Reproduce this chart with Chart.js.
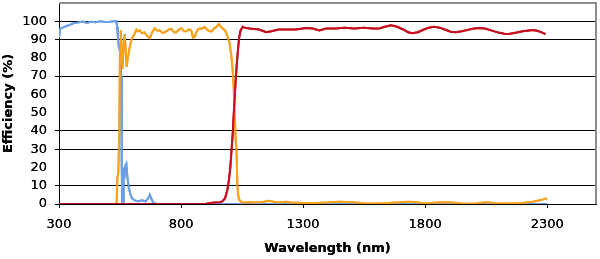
<!DOCTYPE html>
<html>
<head>
<meta charset="utf-8">
<script src="https://cdn.jsdelivr.net/npm/chart.js@4/dist/chart.umd.min.js"></script>
<style>
  html, body { margin: 0; padding: 0; background: #fff; }
  #wrap { position: relative; width: 600px; height: 259px; }
  canvas { display: block; }
  #snap { position: absolute; left: 0; top: 0; width: 600px; height: 259px; pointer-events: none; }
</style>
</head>
<body>
<div id="wrap">
<canvas id="c" width="600" height="259"></canvas>
</div>
<script>
// ---- Data ----
const xTicks = [300, 800, 1300, 1800, 2300];
const yTicks = [0, 10, 20, 30, 40, 50, 60, 70, 80, 90, 100];
const yHiddenGrid = [20, 50, 60, 80];

const blueNm  = [300, 305, 315, 331, 345, 358, 372, 386, 400, 413, 430, 450, 470, 490, 510, 525, 535, 538, 541, 545, 549, 552, 555, 557, 559, 563, 565, 568, 572, 576, 580, 586, 593, 600, 610, 625, 640, 655, 665, 672, 678, 685, 692, 700, 800, 1000, 1200, 1500, 1800, 2100, 2300];
const blueEff = [91, 96, 96.5, 97.4, 98, 98.9, 99.2, 99.6, 99.8, 99.1, 99.7, 99.5, 100, 99.6, 99.8, 100, 100, 97, 92, 86, 84, 82, 70, 20, 0.5, 1.5, 20, 14, 21, 22, 15, 9, 5, 3, 2, 1.5, 2, 1.5, 3, 5, 3, 1, 0.5, 0, 0, 0, 0, 0, 0, 0, 0];

const orangeNm  = [300, 530, 536, 539, 543, 547, 550, 553, 557, 561, 565, 569, 573, 577, 582, 590, 597, 604, 611, 617, 624, 631, 640, 650, 660, 672, 682, 692, 702, 713, 726, 740, 750, 761, 771, 781, 791, 801, 812, 822, 832, 842, 849, 856, 863, 869, 876, 887, 897, 910, 924, 935, 945, 955, 963, 971, 980, 985, 992, 999, 1003, 1007, 1011, 1015, 1020, 1024, 1027, 1031, 1035, 1040, 1048, 1060, 1080, 1100, 1130, 1160, 1180, 1200, 1230, 1250, 1300, 1350, 1400, 1450, 1500, 1550, 1600, 1650, 1700, 1730, 1764, 1800, 1850, 1880, 1910, 1950, 2000, 2050, 2100, 2150, 2200, 2240, 2270, 2290, 2300];
const orangeEff = [0, 0, 0.5, 14, 17, 40, 85, 95, 80, 74, 88, 93, 85, 75, 80, 86, 90, 92, 93.4, 95.5, 94.5, 95, 93.4, 94, 92, 90.7, 94, 96.2, 95, 95, 93.5, 94.5, 95.5, 95.8, 94, 94, 95.5, 96.2, 94.5, 94.5, 95.5, 95, 91, 91.5, 94, 95.5, 96, 96, 96.8, 95, 94.3, 96, 97, 98.5, 97, 96, 95, 93.6, 91, 88, 84, 80, 74, 66, 48, 35, 30, 10, 4, 2, 1, 0.8, 1, 0.8, 1, 1.8, 1.2, 0.8, 1.2, 0.8, 0.5, 0.6, 0.8, 1.2, 1, 0.4, 0.3, 0.5, 1, 1.2, 1, 0.3, 0.8, 1, 0.8, 0.3, 0.2, 1, 0.3, 0.3, 0.6, 1.2, 2, 2.8, 3];

const redNm  = [300, 900, 920, 940, 960, 970, 980, 990, 996, 1002, 1007, 1012, 1017, 1023, 1028, 1033, 1038, 1044, 1053, 1060, 1080, 1100, 1120, 1149, 1170, 1200, 1240, 1270, 1312, 1340, 1367, 1394, 1430, 1470, 1510, 1550, 1585, 1612, 1635, 1660, 1685, 1710, 1730, 1748, 1770, 1795, 1815, 1837, 1860, 1880, 1905, 1925, 1950, 1975, 2000, 2021, 2045, 2070, 2100, 2125, 2143, 2170, 2200, 2225, 2238, 2260, 2280, 2293];
const redEff = [0, 0, 0.5, 0.8, 1, 1.5, 3, 7.8, 13, 20, 30, 39, 52, 66, 76, 84, 91, 95, 97, 96.5, 96, 95.8, 95.5, 94, 94.5, 95.5, 95.5, 95.5, 96.3, 96, 95, 96, 96, 96.5, 96, 96.5, 96, 96.1, 97, 97.8, 97, 95.5, 94, 93.4, 94, 95.5, 96.5, 97, 96.5, 95.5, 94.3, 94, 94.5, 95.3, 96, 96.3, 96, 95, 93.8, 93.2, 93, 93.7, 94.5, 95, 95.2, 94.8, 93.8, 93];

const toPts = (xs, ys) => xs.map((x, i) => ({ x: x, y: ys[i] }));

const borderPlugin = {
  id: 'plotBorder',
  afterDraw(chart) {
    const { ctx, chartArea: a } = chart;
    ctx.save(); ctx.strokeStyle = '#8c8c8c'; ctx.lineWidth = 2;
    ctx.beginPath(); ctx.moveTo(a.left, a.top); ctx.lineTo(a.right, a.top); ctx.lineTo(a.right, a.bottom); ctx.stroke();
    ctx.restore();
  }
};

const tickFont = { family: 'DejaVu Sans', size: 13 };
const titleFont = { family: 'DejaVu Sans', size: 13, weight: 'bold' };

const canvas = document.getElementById('c');
canvas.getContext('2d', { willReadFrequently: true });

let ch = null;
try {
ch = new Chart(canvas, {
  type: 'line',
  data: { datasets: [
    { data: toPts(redNm, redEff), borderColor: '#c8101e', borderWidth: 2, pointRadius: 0, tension: 0 },
    { data: toPts(orangeNm, orangeEff), borderColor: '#f7a21e', borderWidth: 2, pointRadius: 0, tension: 0 },
    { data: toPts(blueNm, blueEff), borderColor: '#6aa0e6', borderWidth: 2, pointRadius: 0, tension: 0 } ] },
  options: {
    responsive: false, animation: false, devicePixelRatio: 1,
    layout: { padding: { top: 3, right: 4, left: 0, bottom: 0 } },
    plugins: { legend: { display: false }, tooltip: { enabled: false } },
    scales: {
      x: { type: 'linear', min: 300, max: 2500,
        afterBuildTicks: s => { s.ticks = xTicks.map(v => ({ value: v })); },
        afterFit: s => { s.height = 55; },
        grid: { display: true, drawOnChartArea: false, drawTicks: true, tickLength: 4, color: '#000000', tickColor: '#000000', lineWidth: 1 },
        border: { display: true, color: '#000', width: 1 },
        ticks: { font: tickFont, color: '#000', padding: 9, maxRotation: 0, autoSkip: false, callback: v => String(v) },
        title: { display: true, text: 'Wavelength (nm)', font: titleFont, color: '#000', padding: { top: 0, bottom: 3 } } },
      y: { type: 'linear', min: 0, max: 110,
        afterBuildTicks: s => { s.ticks = yTicks.map(v => ({ value: v })); },
        afterFit: s => { s.width = 59; s.paddingTop = 0; s.paddingBottom = 0; },
        grid: { display: true, drawOnChartArea: true, drawTicks: true, tickLength: 4, color: '#000000', tickColor: '#000000',
          lineWidth: c => (c.tick && yHiddenGrid.indexOf(c.tick.value) >= 0) ? 0 : 1 },
        border: { display: true, color: '#000', width: 1 },
        ticks: { font: tickFont, color: '#000', padding: 8, autoSkip: false, callback: v => String(v) },
        title: { display: true, text: 'Efficiency (%)', font: titleFont, color: '#000', padding: { top: 1, bottom: 0 } } }
    }
  },
  plugins: [borderPlugin]
});
} catch (e) { /* ignore */ }

// Overlay a snapshot of the finished canvas bitmap so the photographed page shows every drawn layer.
try {
  const img = document.createElement('img');
  img.id = 'snap';
  img.alt = '';
  img.src = canvas.toDataURL('image/png');
  document.getElementById('wrap').appendChild(img);
} catch (e) { /* ignore */ }
</script>
</body>
</html>
